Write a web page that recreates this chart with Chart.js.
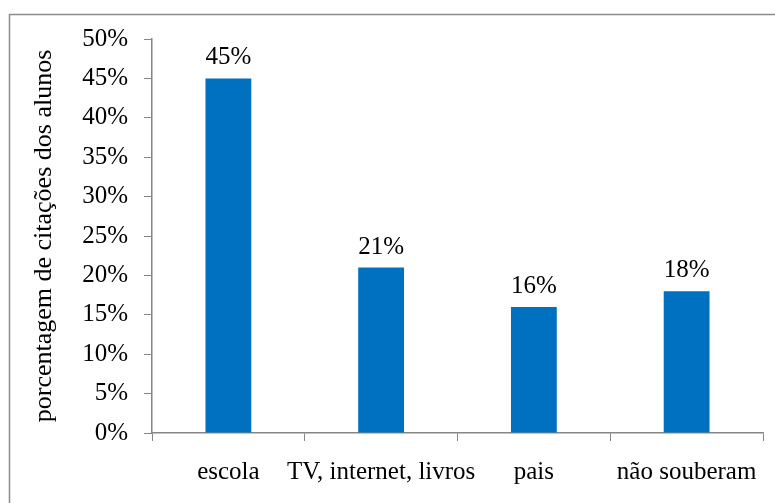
<!DOCTYPE html>
<html>
<head>
<meta charset="utf-8">
<script src="https://cdn.jsdelivr.net/npm/chart.js@4.4.1/dist/chart.umd.min.js"></script>
<style>
  html, body { margin: 0; padding: 0; background: #fff; }
  #wrap { width: 775px; height: 503px; position: relative; }
</style>
</head>
<body>
<div id="wrap"><canvas id="chart__fontes-canvas" width="775" height="503"></canvas></div>
<script>
const chartFontes = document.getElementById("chart__fontes-canvas");

const categorias = ["escola", "TV, internet, livros", "pais", "não souberam"];
const percentuais = [45, 21, 16, 18];
const yTicks = [0, 5, 10, 15, 20, 25, 30, 35, 40, 45, 50];

const serif = "'Liberation Serif', 'Times New Roman', serif";
const fontSize = 25;
const axisGrey = "#868686";

// moldura cinza da área do gráfico + rótulos de valor sobre as barras
const extras = {
  id: "extras",
  beforeDraw(chart) {
    const ctx = chart.ctx;
    ctx.save();
    ctx.strokeStyle = "#8c8c8c";
    ctx.lineWidth = 1.5;
    ctx.strokeRect(9.5, 14.5, 800, 600);
    ctx.restore();
  },
  afterDatasetsDraw(chart) {
    const ctx = chart.ctx;
    const meta = chart.getDatasetMeta(0);
    ctx.save();
    ctx.fillStyle = "#000";
    ctx.font = fontSize + "px " + serif;
    ctx.textAlign = "center";
    ctx.textBaseline = "alphabetic";
    meta.data.forEach((bar, i) => {
      ctx.fillText(percentuais[i] + "%", bar.x, bar.y - 14);
    });
    ctx.restore();
  },
};

new Chart(chartFontes, {
  type: "bar",
  data: {
    labels: categorias,
    datasets: [
      {
        data: percentuais,
        backgroundColor: "#0070c0",
        borderWidth: 0,
        barPercentage: 0.3,
        categoryPercentage: 1,
      },
    ],
  },
  options: {
    responsive: false,
    animation: false,
    layout: { padding: { left: 0, top: 39, right: 12, bottom: 0 } },
    plugins: {
      legend: { display: false },
      tooltip: { enabled: false },
    },
    scales: {
      x: {
        afterFit: (scale) => { scale.height = 70; },
        grid: {
          offset: true,
          drawOnChartArea: false,
          tickLength: 8,
          color: axisGrey,
        },
        border: { color: axisGrey, width: 1.5 },
        ticks: {
          color: "#000",
          padding: 16,
          autoSkip: false,
          maxRotation: 0,
          font: { family: serif, size: fontSize },
        },
      },
      y: {
        min: 0,
        max: 50,
        afterFit: (scale) => { scale.width = 152; },
        afterBuildTicks: (scale) => {
          scale.ticks = yTicks.map((v) => ({ value: v }));
        },
        grid: {
          drawOnChartArea: false,
          tickLength: 8,
          color: axisGrey,
        },
        border: { color: axisGrey, width: 1.5 },
        ticks: {
          color: "#000",
          padding: 16,
          font: { family: serif, size: fontSize },
          callback: (v) => v + "%",
        },
        title: {
          display: true,
          text: "porcentagem de citações dos alunos",
          color: "#000",
          font: { family: serif, size: 26 },
          padding: { top: 29, bottom: 0 },
        },
      },
    },
  },
  plugins: [extras],
});
</script>
</body>
</html>
